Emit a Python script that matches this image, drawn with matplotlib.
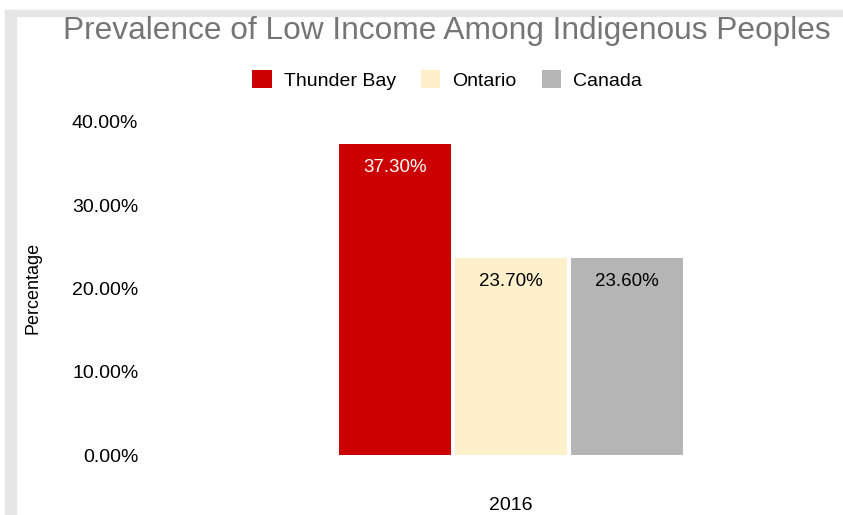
import matplotlib.pyplot as plt
from matplotlib.patches import Rectangle

plt.rcParams['font.family'] = ['Liberation Sans', 'DejaVu Sans']

# -----------------------
# Data
# -----------------------

regions = ["Thunder Bay", "Ontario", "Canada"]
values = [37.3, 23.7, 23.6]
colors = ["#cc0000", "#fff0cc", "#b5b5b5"]
label_colors = ["white", "black", "black"]
year = "2016"
yticks = [0, 10, 20, 30, 40]

# -----------------------
# Figure
# -----------------------

fig = plt.figure(figsize=(8.43, 5.15), dpi=100)

# gray frame on the left / top
fig.patches.append(Rectangle((5 / 843, 0), 11 / 843, 1 - 10 / 515,
                             transform=fig.transFigure, color="#e6e6e6", zorder=0))
fig.patches.append(Rectangle((5 / 843, 1 - 16 / 515), 1, 6 / 515,
                             transform=fig.transFigure, color="#e6e6e6", zorder=0))

ax = fig.add_axes([180 / 843, 1 - 455 / 515, 662 / 843, 350 / 515])

width = 112 / 662
offsets = [-116 / 662, 0, 116 / 662]

for name, v, c, lc, off in zip(regions, values, colors, label_colors, offsets):
    ax.bar(off, v, width=width, color=c, label=name)
    ax.text(off, v - 1.8, f"{v:.2f}%", ha="center", va="top",
            color=lc, fontsize=13.5)

ax.set_xlim(-0.5, 0.5)
ax.set_ylim(0, 42)
ax.set_yticks(yticks)
ax.set_yticklabels([f"{t:.2f}%" for t in yticks], fontsize=14)
ax.tick_params(axis="y", length=0, pad=30)
ax.set_xticks([0])
ax.set_xticklabels([year], fontsize=14)
ax.tick_params(axis="x", length=0, pad=30)

for s in ax.spines.values():
    s.set_visible(False)

fig.text(33 / 843, 1 - 288 / 515, "Percentage", rotation=90,
         ha="center", va="center", fontsize=13)

fig.text(447 / 843, 1 - 31 / 515, "Prevalence of Low Income Among Indigenous Peoples",
         ha="center", va="center", fontsize=22.8, color="#757575")

fig.legend(loc="center", bbox_to_anchor=(447 / 843, 1 - 80 / 515), ncol=3,
           frameon=False, fontsize=14, handlelength=1.0, handleheight=1.0,
           columnspacing=1.3, handletextpad=0.6)

fig.savefig("out.png", dpi=100)
